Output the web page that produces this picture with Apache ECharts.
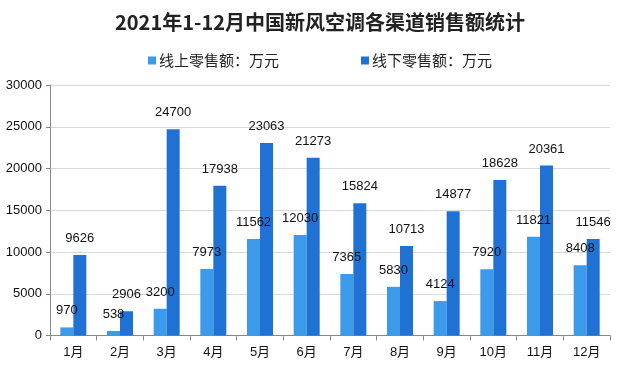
<!DOCTYPE html>
<html>
<head>
<meta charset="utf-8">
<script src="https://cdn.jsdelivr.net/npm/echarts@6/dist/echarts.min.js"></script>
<style>html,body{margin:0;padding:0;background:#fff}#c{width:640px;height:368px}</style>
</head>
<body>
<div id="c"></div>
<script>
const titleText = '2021年1-12月中国新风空调各渠道销售额统计';
const categories = ['1月','2月','3月','4月','5月','6月','7月','8月','9月','10月','11月','12月'];
const seriesNames = ['线上零售额：万元','线下零售额：万元'];
const onlineValues = [970, 538, 3200, 7973, 11562, 12030, 7365, 5830, 4124, 7920, 11821, 8408];
const offlineValues = [9626, 2906, 24700, 17938, 23063, 21273, 15824, 10713, 14877, 18628, 20361, 11546];
const yTicks = [0, 5000, 10000, 15000, 20000, 25000, 30000];

const FONT = '"Liberation Sans", "Noto Sans CJK SC", sans-serif';
const chart = echarts.init(document.getElementById('c'), null, {renderer: 'canvas'});
const labelStyle = {show: true, position: 'top', distance: 10, color: '#111', fontSize: 13, fontFamily: FONT};
chart.setOption({
  animation: false,
  backgroundColor: '#fff',
  title: {
    text: titleText, left: 'center', top: 7,
    textStyle: {fontSize: 20, fontWeight: 'bold', color: '#222', fontFamily: '"Noto Sans CJK SC", sans-serif'}
  },
  legend: {
    top: 48, left: 'center', itemWidth: 8, itemHeight: 8, itemGap: 82,
    icon: 'rect',
    textStyle: {fontSize: 15, color: '#222', fontFamily: '"Noto Sans CJK SC", sans-serif', padding: [0,0,0,-2]},
    data: seriesNames
  },
  grid: {left: 50, right: 30, top: 85, bottom: 32.5},
  xAxis: {
    type: 'category', data: categories,
    axisLine: {lineStyle: {color: '#888'}},
    axisTick: {show: true, alignWithLabel: false, length: 5, lineStyle: {color: '#888'}},
    axisLabel: {color: '#111', fontSize: 13, fontFamily: FONT, margin: 10}
  },
  yAxis: {
    type: 'value', min: yTicks[0], max: yTicks[yTicks.length-1], interval: yTicks[1]-yTicks[0],
    axisLine: {show: true, lineStyle: {color: '#888'}},
    axisTick: {show: true, length: 4, lineStyle: {color: '#888'}},
    axisLabel: {color: '#111', fontSize: 13, fontFamily: FONT, margin: 8, formatter: function (v) { return String(v); }},
    splitLine: {lineStyle: {color: '#d9d9d9'}}
  },
  series: [
    {name: seriesNames[0], type: 'bar', data: onlineValues, barWidth: 13, barGap: '0%',
     itemStyle: {color: '#3b9bea'}, label: labelStyle},
    {name: seriesNames[1], type: 'bar', data: offlineValues, barWidth: 13, barGap: '0%',
     itemStyle: {color: '#1f72d3'}, label: labelStyle}
  ]
});
</script>
</body>
</html>
